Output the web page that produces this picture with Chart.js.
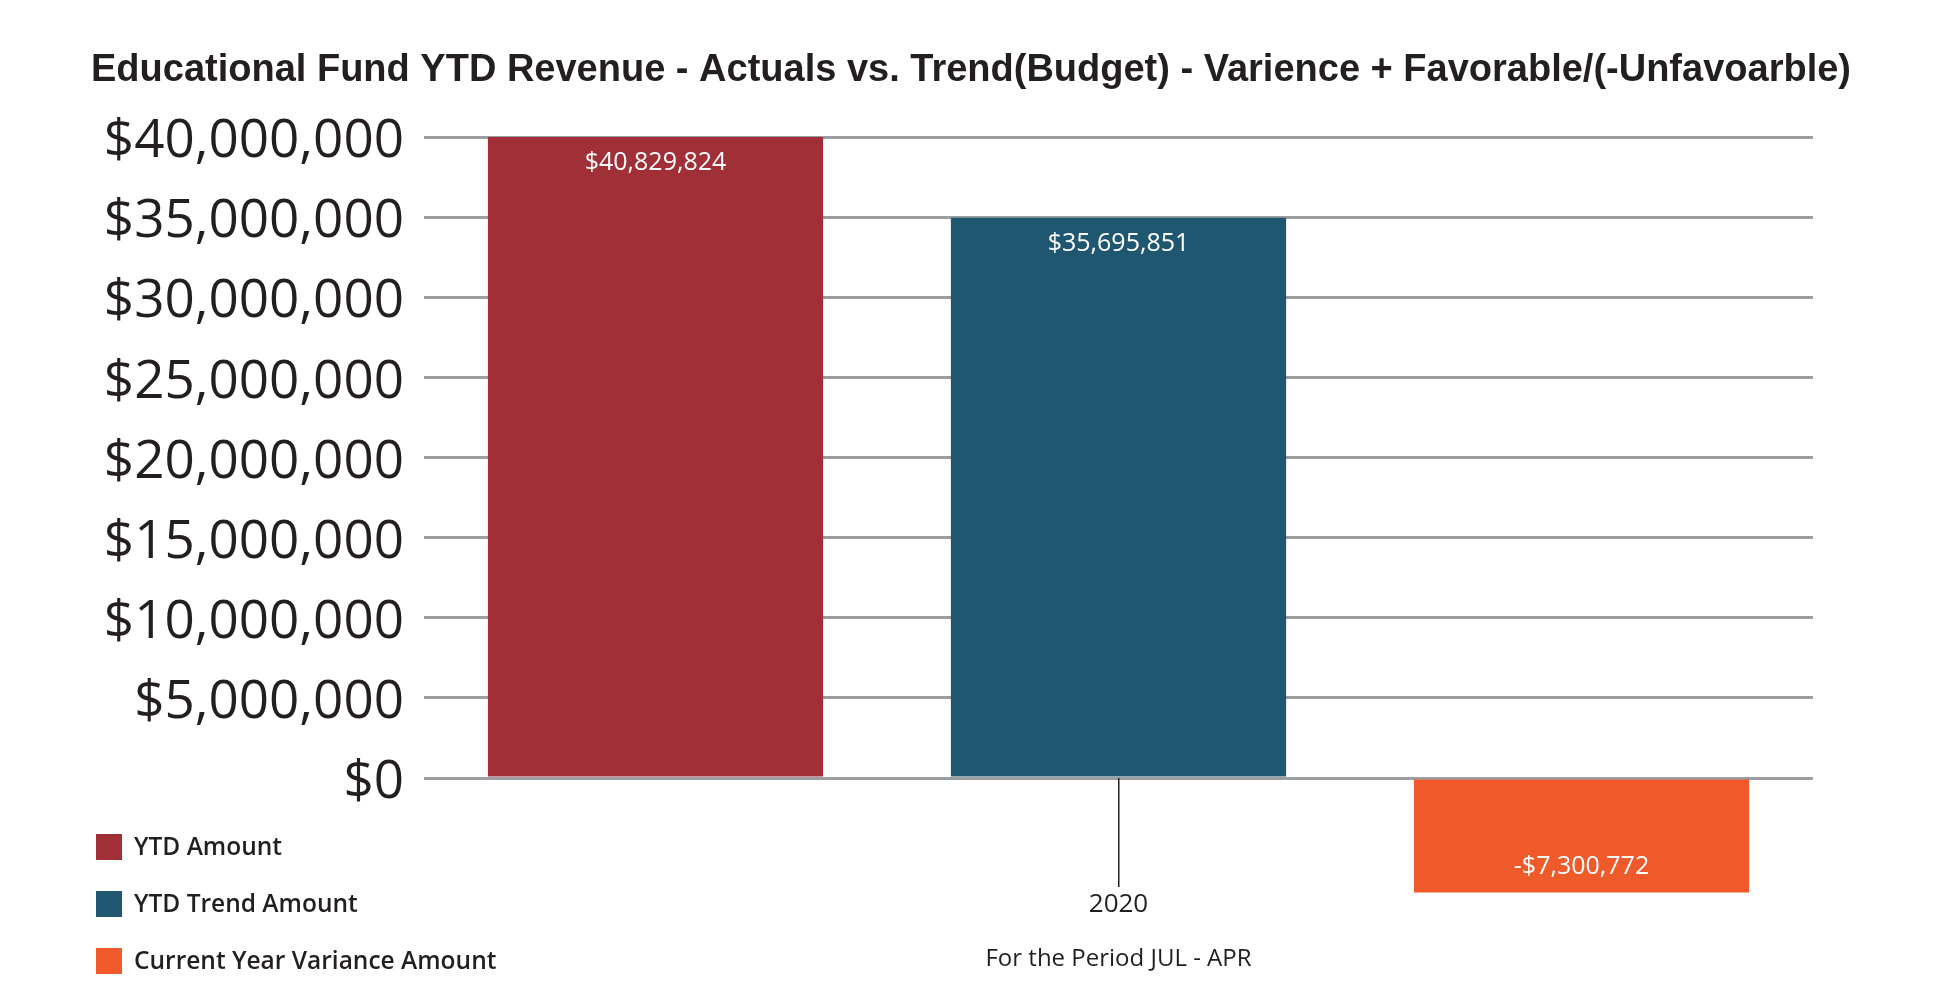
<!DOCTYPE html>
<html>
<head>
<meta charset="utf-8">
<script src="https://cdn.jsdelivr.net/npm/chart.js@4.4.1/dist/chart.umd.min.js"></script>
<style>
  html, body { margin: 0; padding: 0; background: #ffffff; }
  #wrap { position: relative; width: 1942px; height: 1008px; }
</style>
</head>
<body>
<div id="wrap"><canvas id="fundChart"></canvas></div>
<script>
	// 데이터
	var categories = ['2020'];
	var seriesNames = ['YTD Amount', 'YTD Trend Amount', 'Current Year Variance Amount'];
	var ytdAmount = [40829824];
	var ytdTrend = [35695851];
	var varianceAmount = [-7300772];
	var tickLabels = ['$0', '$5,000,000', '$10,000,000', '$15,000,000', '$20,000,000',
		'$25,000,000', '$30,000,000', '$35,000,000', '$40,000,000'];

	var colors = ['#a12f37', '#1f5770', '#f05a2a'];
	var textColor = '#231f20';
	var bodyFont = "'Open Sans', 'Noto Sans', sans-serif";

	// 축 최대값 : 원본처럼 가장 큰 막대가 맨 위 눈금선에 닿도록
	var yMax = Math.max.apply(null, ytdAmount);
	var yStep = yMax / (tickLabels.length - 1);

	function fmtMoney(v) {
		var s = '$' + Math.abs(v).toLocaleString('en-US');
		return v < 0 ? '-' + s : s;
	}

	// 막대 안쪽 끝에 값 표시
	var barLabels = {
		id: 'barLabels',
		afterDatasetsDraw: function(chart) {
			var ctx = chart.ctx;
			ctx.save();
			ctx.fillStyle = '#ffffff';
			ctx.font = '25px ' + bodyFont;
			ctx.textAlign = 'center';
			ctx.textBaseline = 'middle';
			chart.data.datasets.forEach(function(ds, i) {
				chart.getDatasetMeta(i).data.forEach(function(bar, j) {
					var v = ds.data[j];
					var y = v >= 0 ? bar.y + 26 : bar.y - 26;
					ctx.fillText(fmtMoney(v), bar.x, y);
				});
			});
			ctx.restore();
		}
	};

	// 왼쪽 아래 세로 범례
	var sideLegend = {
		id: 'sideLegend',
		afterDraw: function(chart) {
			var ctx = chart.ctx;
			ctx.save();
			ctx.font = '600 24.5px ' + bodyFont;
			ctx.textAlign = 'left';
			ctx.textBaseline = 'middle';
			chart.data.datasets.forEach(function(ds, i) {
				var top = 834 + i * 57;
				ctx.fillStyle = ds.backgroundColor;
				ctx.fillRect(96, top, 26, 26);
				ctx.fillStyle = textColor;
				ctx.fillText(ds.label, 134, top + 14);
			});
			ctx.restore();
		}
	};

	var data = {
		labels: categories,
		datasets: [
			{ label: seriesNames[0], data: ytdAmount, backgroundColor: colors[0], clip: false },
			{ label: seriesNames[1], data: ytdTrend, backgroundColor: colors[1], clip: false },
			{ label: seriesNames[2], data: varianceAmount, backgroundColor: colors[2], clip: false }
		]
	};

	var config = {
		type: 'bar',
		data: data,
		options: {
			responsive: true,
			maintainAspectRatio: false,
			animation: false,
			datasets: {
				bar: { categoryPercentage: 1.0, barPercentage: 0.724 }
			},
			layout: { padding: 0 },
			scales: {
				y: {
					min: 0,
					max: yMax,
					afterFit: function(s) { s.width = 424; },
					border: { display: false },
					grid: { color: '#9d9ea2', lineWidth: 3, drawTicks: false },
					ticks: {
						stepSize: yStep,
						padding: 20,
						labelOffset: 5,
						color: textColor,
						font: { family: bodyFont, size: 53 },
						callback: function(v, i) { return tickLabels[i]; }
					}
				},
				// 오른쪽 여백용 빈 축 (제목은 캔버스 전체 폭 기준 가운데)
				yPad: {
					position: 'right',
					display: true,
					afterFit: function(s) { s.width = 129; },
					border: { display: false },
					grid: { display: false },
					ticks: { display: false }
				},
				x: {
					afterFit: function(s) { s.height = 230; },
					border: { display: false },
					grid: {
						drawOnChartArea: false,
						offset: false,
						tickLength: 109,
						color: textColor,
						lineWidth: 1.5
					},
					ticks: {
						padding: 2,
						color: textColor,
						font: { family: bodyFont, size: 26 }
					},
					title: {
						display: true,
						text: 'For the Period JUL - APR',
						color: textColor,
						font: { family: bodyFont, size: 24 },
						padding: { top: 0, bottom: 34 }
					}
				}
			},
			plugins: {
				legend: { display: false },
				tooltip: { enabled: false },
				title: {
					display: true,
					text: 'Educational Fund YTD Revenue - Actuals vs. Trend(Budget) - Varience + Favorable/(-Unfavoarble)',
					color: textColor,
					font: { family: "'Liberation Sans', Arial, sans-serif", size: 38, weight: 'bold' },
					padding: { top: 48, bottom: 43.5 }
				}
			}
		},
		plugins: [barLabels, sideLegend]
	};

	var ctx1 = document.getElementById('fundChart').getContext('2d');
	new Chart(ctx1, config);
</script>
</body>
</html>
